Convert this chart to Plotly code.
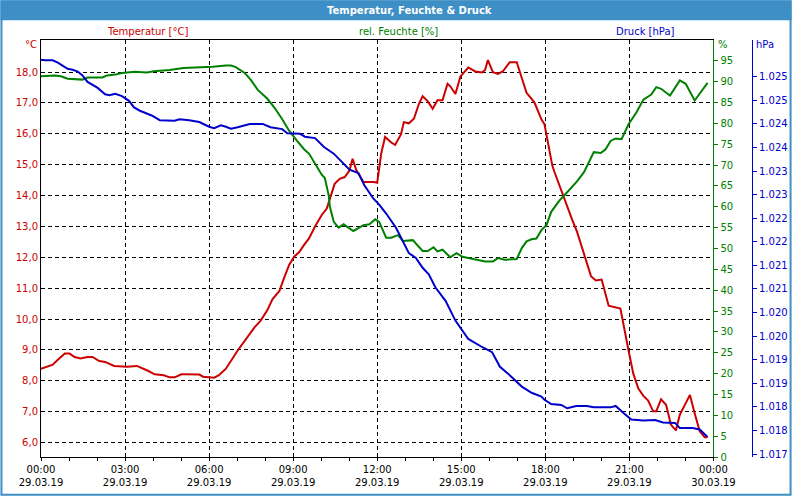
import plotly.graph_objects as go

# ---------------- data ----------------
hours_T = [0.00, 0.25, 0.42, 0.60, 0.85, 1.02, 1.20, 1.41, 1.66, 1.84, 2.08, 2.29, 2.61, 3.07, 3.42,
           3.78, 4.06, 4.38, 4.59, 4.77, 5.01, 5.12, 5.65, 5.79, 6.18, 6.35, 6.60, 7.02, 7.31, 7.62,
           7.84, 8.08, 8.26, 8.51, 8.68, 8.86, 9.04, 9.21, 9.39, 9.57, 9.78, 10.02, 10.20, 10.38,
           10.48, 10.66, 10.84, 11.01, 11.12, 11.26, 11.51, 11.86, 12.00, 12.14, 12.28, 12.50,
           12.64, 12.85, 12.95, 13.13, 13.31, 13.48, 13.62, 13.80, 13.98, 14.15, 14.33, 14.51,
           14.61, 14.79, 14.97, 15.25, 15.50, 15.74, 15.85, 15.95, 16.13, 16.31, 16.48, 16.73,
           16.98, 17.16, 17.33, 17.61, 17.86, 17.97, 18.04, 18.14, 18.25, 18.32, 18.50, 18.74,
           18.96, 19.13, 19.38, 19.63, 19.80, 20.01, 20.26, 20.51, 20.68, 20.97, 21.14, 21.32,
           21.50, 21.67, 21.85, 21.96, 22.13, 22.31, 22.48, 22.66, 22.80, 22.98, 23.16, 23.33,
           23.51, 23.69, 23.79]
temp = [8.39, 8.47, 8.52, 8.68, 8.88, 8.88, 8.77, 8.72, 8.77, 8.77, 8.64, 8.61, 8.48, 8.45, 8.48,
        8.34, 8.21, 8.18, 8.11, 8.11, 8.21, 8.21, 8.20, 8.13, 8.10, 8.18, 8.39, 8.98, 9.36, 9.73,
        9.95, 10.29, 10.64, 10.91, 11.34, 11.76, 12.03, 12.16, 12.40, 12.62, 13.00, 13.37, 13.58,
        14.06, 14.38, 14.54, 14.60, 14.81, 15.19, 14.81, 14.44, 14.44, 14.42, 15.35, 15.90, 15.72,
        15.64, 15.99, 16.38, 16.34, 16.49, 16.95, 17.22, 17.06, 16.81, 17.09, 17.09, 17.62,
        17.54, 17.29, 17.86, 18.15, 18.02, 17.99, 18.07, 18.39, 18.00, 17.94, 18.02, 18.32,
        18.32, 17.81, 17.33, 17.02, 16.47, 16.31, 15.99, 15.51, 14.97, 14.78, 14.33, 13.80,
        13.21, 12.83, 12.08, 11.39, 11.25, 11.28, 10.43, 10.37, 10.34, 8.98, 8.23, 7.75,
        7.51, 7.36, 7.01, 7.01, 7.40, 7.22, 6.58, 6.39, 6.90, 7.22, 7.54, 6.95,
        6.36, 6.17, 6.17]

hours_H = [0.00, 0.49, 0.71, 0.95, 1.48, 1.66, 2.19, 2.36, 2.65, 2.89, 3.35, 3.78, 4.02, 4.59,
           5.08, 5.79, 6.14, 6.60, 6.78, 6.95, 7.27, 7.48, 7.73, 8.08, 8.33, 8.61, 8.86, 9.14,
           9.39, 9.57, 9.78, 10.02, 10.13, 10.27, 10.31, 10.45, 10.62, 10.80, 11.15, 11.51,
           11.72, 11.93, 12.07, 12.32, 12.50, 12.74, 12.92, 13.27, 13.62, 13.80, 14.01, 14.15,
           14.33, 14.61, 14.83, 15.04, 15.25, 15.85, 16.13, 16.31, 16.55, 16.98, 17.16, 17.33,
           17.51, 17.68, 17.86, 18.04, 18.21, 18.50, 18.78, 19.13, 19.38, 19.73, 19.98, 20.15,
           20.33, 20.51, 20.72, 20.97, 21.25, 21.50, 21.78, 21.96, 22.13, 22.45, 22.80, 23.01,
           23.33, 23.79]
hum = [91.3, 91.5, 91.3, 90.7, 90.5, 91.0, 91.0, 91.5, 91.7, 92.1, 92.4, 92.2, 92.5, 92.8,
       93.3, 93.4, 93.6, 93.9, 93.9, 93.5, 92.1, 90.5, 88.1, 85.9, 83.8, 81.0, 78.2, 75.8,
       73.8, 72.7, 70.3, 67.7, 66.9, 62.7, 60.0, 56.4, 55.0, 55.8, 54.2, 55.6,
       55.8, 57.0, 56.4, 52.6, 52.6, 53.2, 51.8, 52.0, 49.4, 49.4, 50.3, 49.3,
       49.7, 47.9, 48.9, 48.0, 47.7, 46.9, 46.9, 47.7, 47.3, 47.5, 50.1, 51.7,
       52.2, 52.4, 54.4, 55.6, 58.8, 61.5, 63.5, 66.1, 68.3, 73.1, 72.9, 73.8,
       75.8, 76.4, 76.2, 79.8, 82.6, 85.7, 86.9, 88.7, 88.3, 86.7, 90.3, 89.5,
       85.5, 89.7]

hours_P = [0.00, 0.14, 0.42, 0.60, 0.95, 1.13, 1.31, 1.48, 1.66, 2.01, 2.29, 2.44, 2.65, 2.89,
           3.14, 3.32, 3.53, 3.95, 4.24, 4.77, 4.94, 5.29, 5.65, 6.00, 6.18, 6.42, 6.60, 6.78,
           7.02, 7.45, 7.91, 8.19, 8.61, 8.79, 9.25, 9.42, 9.78, 10.10, 10.45, 10.80, 11.01,
           11.33, 11.54, 11.86, 12.07, 12.32, 12.67, 13.13, 13.38, 13.62, 13.84, 14.08, 14.44,
           14.79, 15.25, 15.74, 16.10, 16.38, 16.66, 17.16, 17.51, 17.86, 17.97, 18.21, 18.57,
           18.78, 19.10, 19.48, 19.73, 20.33, 20.51, 20.79, 21.07, 21.50, 21.92, 22.20, 22.63,
           22.80, 23.26, 23.51, 23.79]
press = [1025.36, 1025.35, 1025.35, 1025.30, 1025.17, 1025.15, 1025.11, 1025.03, 1024.89,
         1024.77, 1024.63, 1024.61, 1024.64, 1024.59, 1024.49, 1024.35, 1024.28, 1024.18,
         1024.08, 1024.07, 1024.10, 1024.08, 1024.04, 1023.94, 1023.91, 1023.97, 1023.94,
         1023.90, 1023.93, 1024.00, 1024.00, 1023.93, 1023.89, 1023.80, 1023.79, 1023.73,
         1023.70, 1023.51, 1023.37, 1023.16, 1023.03, 1022.96, 1022.70, 1022.42, 1022.29,
         1022.10, 1021.80, 1021.26, 1021.16, 1020.95, 1020.81, 1020.53, 1020.25, 1019.83,
         1019.44, 1019.27, 1019.16, 1018.85, 1018.71, 1018.43, 1018.30, 1018.22, 1018.15,
         1018.06, 1018.04, 1017.97, 1018.02, 1018.02, 1017.99, 1017.99, 1018.02, 1017.87,
         1017.73, 1017.71, 1017.72, 1017.67, 1017.66, 1017.55, 1017.55, 1017.52, 1017.36]

x_tickvals = [0, 3, 6, 9, 12, 15, 18, 21, 24]
x_ticktext = ["00:00<br>29.03.19", "03:00<br>29.03.19", "06:00<br>29.03.19",
              "09:00<br>29.03.19", "12:00<br>29.03.19", "15:00<br>29.03.19",
              "18:00<br>29.03.19", "21:00<br>29.03.19", "00:00<br>30.03.19"]
temp_ticks = [6, 7, 8, 9, 10, 11, 12, 13, 14, 15, 16, 17, 18]
hum_ticks = [0, 5, 10, 15, 20, 25, 30, 35, 40, 45, 50, 55, 60, 65, 70, 75, 80, 85, 90, 95]
press_ticks = [1017.0, 1017.5, 1018.0, 1018.5, 1019.0, 1019.5, 1020.0, 1020.5, 1021.0,
               1021.5, 1022.0, 1022.5, 1023.0, 1023.5, 1024.0, 1024.5, 1025.0]
press_labels = ["1.017", "1.018", "1.018", "1.019", "1.019", "1.020", "1.020", "1.021", "1.021",
                "1.022", "1.022", "1.023", "1.023", "1.024", "1.024", "1.025", "1.025"]

title_text = "Temperatur, Feuchte & Druck"
series_labels = ["Temperatur [°C]", "rel. Feuchte [%]", "Druck [hPa]"]
unit_labels = ["°C", "%", "hPa"]

# ---------------- style ----------------
RED = "#cc0000"
GREEN = "#008000"
BLUE = "#0000cc"
BAR = "#3d8fc6"
FONT = "DejaVu Sans"

L, R, T, B = 41, 40, 40, 39
W, H = 800, 500
PW = W - L - R          # paper width in px
PH = H - T - B          # paper height in px
PLOT_RIGHT = 721


def px2x(px):
    return (px - L) / PW


def py2y(py):
    return (H - B - py) / PH


fig = go.Figure()
fig.add_trace(go.Scatter(x=hours_H, y=hum, yaxis="y2", mode="lines",
                         line=dict(color=GREEN, width=2), hoverinfo="skip"))
fig.add_trace(go.Scatter(x=hours_P, y=press, yaxis="y3", mode="lines",
                         line=dict(color=BLUE, width=2), hoverinfo="skip"))
fig.add_trace(go.Scatter(x=hours_T, y=temp, yaxis="y", mode="lines",
                         line=dict(color=RED, width=2), hoverinfo="skip"))

grid = dict(showgrid=True, gridcolor="black", gridwidth=1, griddash="4px,3px")

fig.update_layout(
    width=W, height=H,
    margin=dict(l=L, r=R, t=T, b=B, pad=0),
    paper_bgcolor="white", plot_bgcolor="white",
    separators=",.",
    showlegend=False,
    font=dict(family=FONT, size=10, color="black"),
    xaxis=dict(domain=[0, px2x(PLOT_RIGHT)], range=[0, 24], tickmode="array",
               tickvals=x_tickvals, ticktext=x_ticktext, **grid,
               showline=True, linecolor="black", linewidth=1, mirror=True,
               ticks="outside", ticklen=3, tickcolor="black",
               minor=dict(dtick=1, tick0=0, ticks="outside", ticklen=3, tickcolor="black",
                          showgrid=False),
               tickfont=dict(family=FONT, size=10, color="black"),
               zeroline=False, fixedrange=True),
    yaxis=dict(range=[5.53, 19.04], tickmode="array", tickvals=temp_ticks, tickformat=".1f",
               **grid, showline=True, linecolor="black", linewidth=1,
               ticks="", tickfont=dict(family=FONT, size=10, color=RED),
               zeroline=False, fixedrange=True),
    yaxis2=dict(overlaying="y", side="right", anchor="x", range=[0, 100],
                tickmode="array", tickvals=hum_ticks, showgrid=False,
                showline=True, linecolor=GREEN, linewidth=1,
                ticks="outside", ticklen=4, tickcolor=GREEN,
                tickfont=dict(family=FONT, size=10, color=GREEN),
                zeroline=False, fixedrange=True),
    yaxis3=dict(overlaying="y", side="right", anchor="free", position=1.0,
                range=[1016.937, 1025.78], tickmode="array", tickvals=press_ticks,
                ticktext=press_labels, showgrid=False,
                showline=True, linecolor=BLUE, linewidth=1,
                ticks="outside", ticklen=4, tickcolor=BLUE,
                tickfont=dict(family=FONT, size=10, color=BLUE),
                zeroline=False, fixedrange=True),
)

# title bar and outer frame
fig.add_shape(type="rect", xref="paper", yref="paper",
              x0=px2x(0), x1=px2x(W), y0=py2y(20), y1=py2y(0),
              fillcolor=BAR, line=dict(width=0), layer="below")
fig.add_shape(type="rect", xref="paper", yref="paper",
              x0=px2x(1), x1=px2x(W - 1), y0=py2y(H - 1), y1=py2y(1),
              fillcolor="rgba(0,0,0,0)", line=dict(color=BAR, width=2))

ann = []
ann.append(dict(text="<b>" + title_text + "</b>", x=px2x(414), y=py2y(10),
                font=dict(family=FONT, size=10, color="white")))
for lab, xc, col in zip(series_labels, [149, 403, 652], [RED, GREEN, BLUE]):
    ann.append(dict(text=lab, x=px2x(xc), y=py2y(31), font=dict(family=FONT, size=10, color=col)))
for lab, xc, col in zip(unit_labels, [31, 731, 773], [RED, GREEN, BLUE]):
    ann.append(dict(text=lab, x=px2x(xc), y=py2y(45), font=dict(family=FONT, size=10, color=col)))
for a in ann:
    a.update(xref="paper", yref="paper", showarrow=False, xanchor="center", yanchor="middle")
fig.update_layout(annotations=ann)

fig.write_html("out.html")
